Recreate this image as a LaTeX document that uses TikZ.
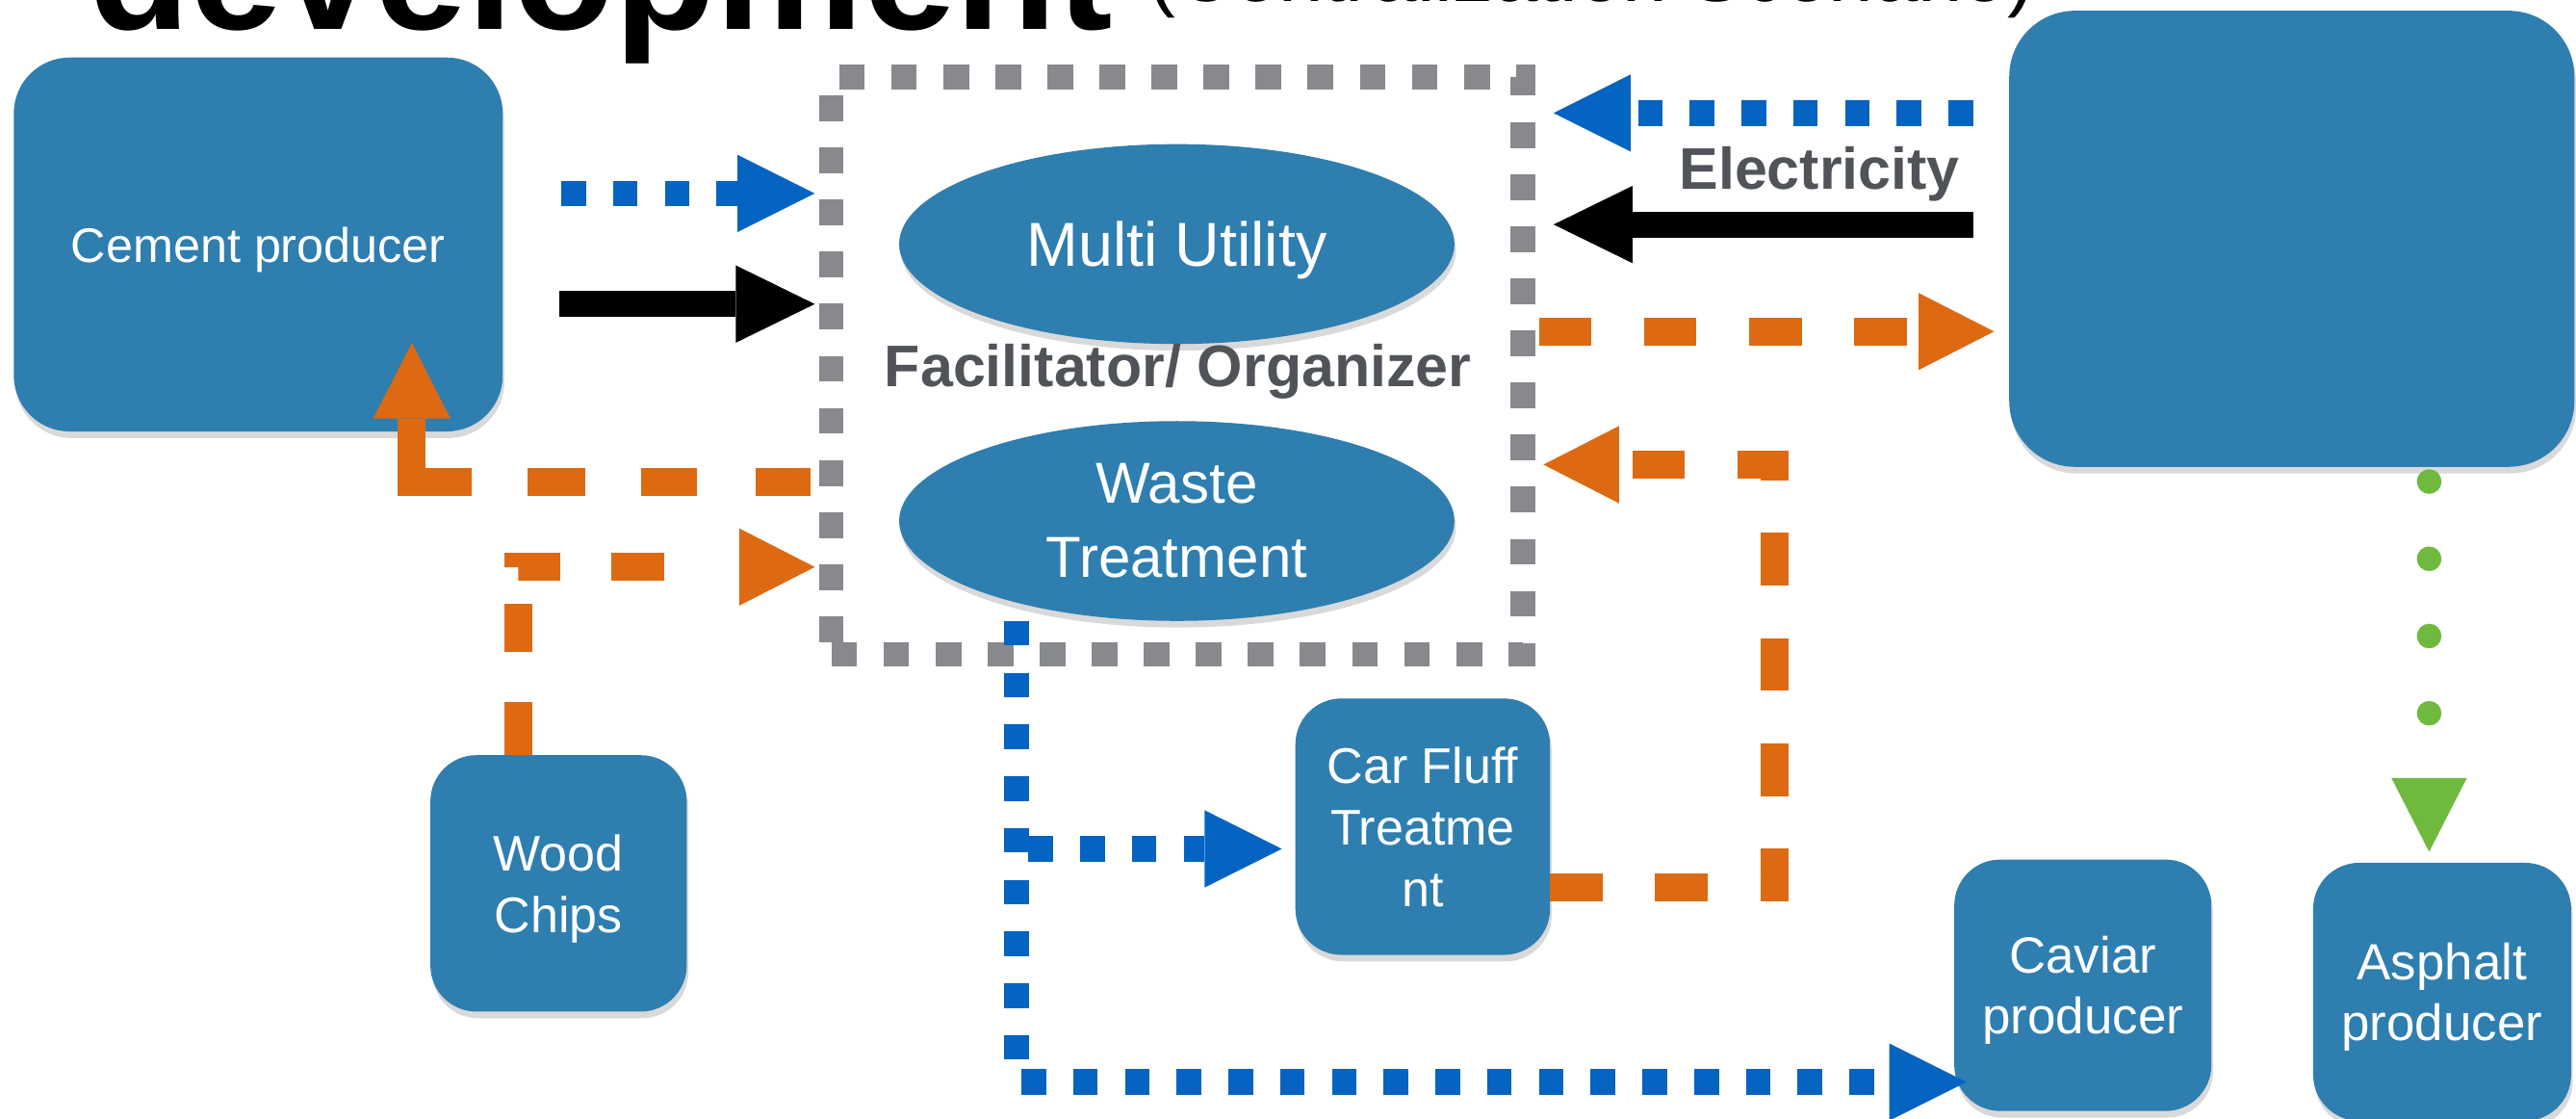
\documentclass[tikz,border=0pt]{standalone}
\usepackage{fontspec}
\setmainfont{Liberation Sans}
\usetikzlibrary{arrows.meta,shapes.geometric,shadows}
\definecolor{boxblue}{RGB}{46,126,176}
\definecolor{flowblue}{RGB}{5,99,193}
\definecolor{floworange}{RGB}{221,106,18}
\definecolor{hubgray}{RGB}{135,137,141}
\definecolor{flowgreen}{RGB}{111,185,63}
\definecolor{labgray}{RGB}{80,83,88}

\begin{document}
\begin{tikzpicture}[x=1pt,y=-1pt,
  firm/.style={fill=boxblue, rounded corners=28pt, text=white, align=center, inner sep=0pt,
    text depth=0pt, drop shadow={opacity=0.3, shadow xshift=1pt, shadow yshift=-4pt},
    font=\fontsize{30.5}{37.5}\selectfont},
  utility/.style={ellipse, fill=boxblue, text=white, align=center, inner sep=0pt,
    minimum width=338pt, minimum height=121.6pt,
    drop shadow={opacity=0.3, shadow xshift=1pt, shadow yshift=-4pt}},
  hubbox/.style={draw=hubgray, line width=14.9pt, dash pattern=on 15.7pt off 16pt,
    minimum width=421pt, minimum height=351.3pt, inner sep=0pt},
  blueflow/.style={draw=flowblue, line width=15.5pt, dash pattern=on 15pt off 16.5pt,
    -{Triangle[length=47pt,width=47pt,line width=0pt]}},
  blackflow/.style={draw=black, line width=15.7pt,
    -{Triangle[length=48pt,width=47pt,line width=0pt]}},
  orangeflow/.style={draw=floworange, line width=17pt, dash pattern=on 32pt off 32pt,
    -{Triangle[length=46pt,width=47pt,line width=0pt]}},
  greenflow/.style={draw=flowgreen, line width=15pt, line cap=round, dash pattern=on 0pt off 47pt,
    -{Triangle[length=45pt,width=46pt,line width=0pt]}},
  flowlabel/.style={text=labgray, font=\bfseries\fontsize{35.7}{40}\selectfont, inner sep=0pt}
]
\useasboundingbox (0,0) rectangle (1568,680.3);
\clip (0,0) rectangle (1568,680.3);

\node[anchor=base west, inner sep=0pt, font=\bfseries\fontsize{101}{112}\selectfont] (title) at (54,17.6) {development};
\node[anchor=base west, inner sep=0pt, font=\fontsize{49}{55}\selectfont] (scenario) at (699,1) {(Centralization Scenario)};

\node[firm, minimum width=297.6pt, minimum height=227.5pt, rounded corners=34pt, font=\fontsize{29.5}{35}\selectfont] (cement) at (157.2,148.75) {Cement producer};
\node[firm, minimum width=344pt, minimum height=277.5pt, rounded corners=40pt] (plant) at (1395,145.3) {};
\node[firm, minimum width=155pt, minimum height=156pt] (fluff) at (866,503) {Car Fluff\\Treatme\\nt};
\node[firm, minimum width=156pt, minimum height=156pt] (wood) at (340,537.5) {Wood\\Chips};
\node[firm, minimum width=156.5pt, minimum height=153pt, font=\fontsize{31}{37}\selectfont] (caviar) at (1267.8,599.5) {Caviar\\producer};
\node[firm, minimum width=157pt, minimum height=157pt, font=\fontsize{31}{37}\selectfont] (asphalt) at (1486.5,603.5) {Asphalt\\producer};

\node[hubbox] (hub) at (716.5,222.4) {};
\node[utility, font=\fontsize{37.8}{45}\selectfont, text depth=0pt] (multi) at (716.3,148.5) {Multi Utility};
\node[utility, font=\fontsize{35.2}{45}\selectfont] (waste) at (716.3,317) {Waste\\Treatment};
\node[flowlabel, anchor=base] (facil) at (717,235.4) {Facilitator/ Organizer};
\node[flowlabel, anchor=base] (elec) at (1107.5,115) {Electricity};

\coordinate (cBlue) at (341.6,117.7);
\coordinate (cBlack) at (340.5,185);
\coordinate (pBlue) at (1201,68.8);
\coordinate (pBlack) at (1201,136.6);
\coordinate (hOrange) at (936.7,201.7);
\coordinate (fOut) at (943.4,539.7);
\coordinate (fBack) at (1080,282.7);
\coordinate (wTop) at (315.3,459.4);
\coordinate (wIn) at (496,345);
\coordinate (hOut) at (493.4,293);
\coordinate (cIn) at (250.7,208.6);
\coordinate (wTap) at (618.8,377.8);
\coordinate (cavIn) at (1197,658.4);
\coordinate (fTap) at (626,516.5);
\coordinate (gTop) at (1478.6,293);

\draw[blueflow, shorten >=2.6pt] (cBlue) -- (cBlue -| hub.west);
\draw[blackflow, shorten >=2.6pt] (cBlack) -- (cBlack -| hub.west);
\draw[blueflow, shorten >=11.2pt] (pBlue) -- (pBlue -| hub.east);
\draw[blackflow, shorten >=11.2pt] (pBlack) -- (pBlack -| hub.east);
\draw[orangeflow, shorten >=9pt] (hOrange) -- (hOrange -| plant.west);
\draw[orangeflow, shorten >=5pt] (fOut) -| (fBack) -- (fBack -| hub.east);
\draw[orangeflow, dash pattern=on 32pt off 31pt on 29pt off 22.4pt on 26pt off 31pt on 32pt off 60pt] (wTop) |- (wIn);
\draw[orangeflow, dash pattern=on 33.4pt off 35.6pt on 34.4pt off 34pt on 35pt off 34pt on 200pt off 10pt] (hOut) -| (cIn);
\draw[blueflow] (wTap) |- (cavIn);
\draw[blueflow, shorten >=8pt] (fTap) -- (fTap -| fluff.west);
\draw[greenflow, shorten >=6.5pt] (gTop) -- (gTop |- asphalt.north);
\end{tikzpicture}
\end{document}
